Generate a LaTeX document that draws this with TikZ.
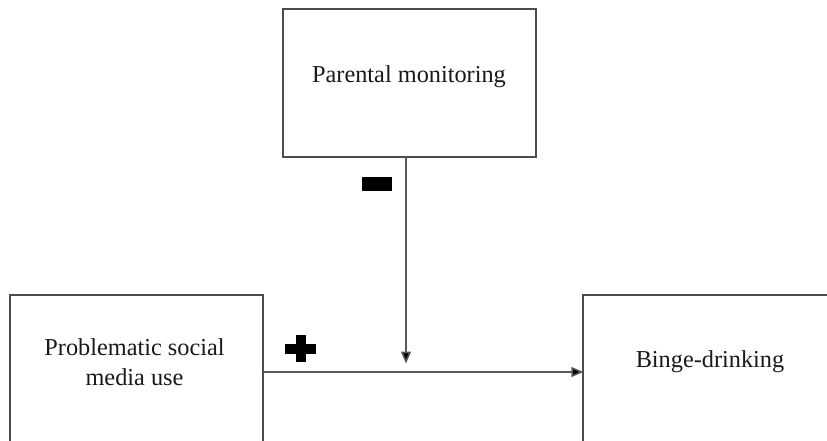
\documentclass[tikz,border=0pt]{standalone}
\usepackage{fontspec}
\setmainfont{Liberation Serif}
\usetikzlibrary{arrows.meta}
\tikzset{
  boxnode/.style={draw=black!70, line width=1.8pt, rectangle, inner sep=0pt, outer sep=0pt},
  txt/.style={font=\fontsize{24.3}{30}\selectfont, text=black!90, align=center, inner sep=0pt},
  conn/.style={draw=black!65, line width=1.5pt, -{Triangle[length=12pt,width=10pt,fill=black]}},
  signmark/.style={fill=black, draw=none}
}
\begin{document}
\begin{tikzpicture}[x=1pt,y=-1pt]
\useasboundingbox (0,0) rectangle (827,441);
\clip (0,0) rectangle (827,441);
\node[boxnode, minimum width=253pt, minimum height=147.7pt] (pm) at (409.2,83.2) {};
\node[txt] (pmt) at (409,77) {Parental monitoring};
\node[boxnode, minimum width=253.3pt, minimum height=154pt] (psm) at (136.7,372) {};
\node[txt] (psmt) at (134.5,361.7) {Problematic social\\media use};
\node[boxnode, minimum width=253pt, minimum height=154pt] (bd) at (709.8,372) {};
\node[txt] (bdt) at (710,361.7) {Binge-drinking};
\coordinate (modtip) at (406,363.5);
\draw[conn] (pm.south -| modtip) -- (modtip);
\draw[conn] (psm.east) -- (bd.west);
\node[signmark, minimum width=30.6pt, minimum height=14pt, inner sep=0pt] (minus) at (377,183.7) {};
\node[signmark, minimum width=31pt, minimum height=10pt, inner sep=0pt] (plush) at (300.5,348.5) {};
\node[signmark, minimum width=10pt, minimum height=27pt, inner sep=0pt] (plusv) at (300.5,348.5) {};
\end{tikzpicture}
\end{document}
